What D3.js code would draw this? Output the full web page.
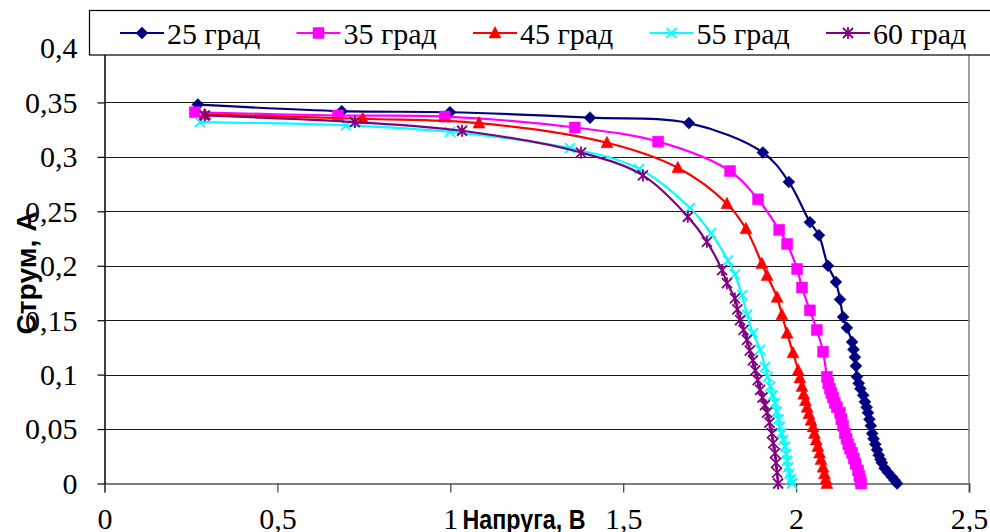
<!DOCTYPE html>
<html>
<head>
<meta charset="utf-8">
<script src="https://cdn.jsdelivr.net/npm/d3@7"></script>
<style>
  body { margin: 0; background: #fff; }
  svg { display: block; }
  text.serif, .serif text { font-family: "Liberation Serif", "Tinos", "Times New Roman", "DejaVu Serif", serif; font-size: 30px; }
  .title { font-family: "Liberation Sans Narrow", "Liberation Sans", Arial, sans-serif; font-size: 27px; font-weight: bold; }
</style>
</head>
<body>
<svg width="990" height="532"></svg>
<script>
// tick values
var xTicks = [0, 0.5, 1, 1.5, 2, 2.5];
var yTicks = [0, 0.05, 0.1, 0.15, 0.2, 0.25, 0.3, 0.35, 0.4];

var seriesNames = ["25 град", "35 град", "45 град", "55 град", "60 град"];
var seriesColors = ["#000080", "#ff00ff", "#ff0000", "#00ffff", "#800080"];
var seriesMarkers = ["diamond", "square", "triangle", "cross", "star"];

// [напруга, В ; струм, А]
var s25 = [[0.270,0.348],[0.686,0.342],[0.999,0.341],[1.404,0.336],[1.690,0.331],[1.904,0.304],[1.979,0.277],
  [2.040,0.240],[2.066,0.228],[2.092,0.200],[2.115,0.185],[2.127,0.169],[2.136,0.153],[2.147,0.143],[2.162,0.130],
  [2.166,0.123],[2.170,0.116],[2.173,0.108],[2.176,0.098],[2.181,0.092],[2.186,0.087],[2.194,0.081],[2.199,0.075],
  [2.204,0.070],[2.208,0.065],[2.212,0.059],[2.216,0.053],[2.220,0.046],[2.224,0.041],[2.229,0.036],[2.234,0.031],
  [2.239,0.026],[2.244,0.022],[2.248,0.019],[2.256,0.014],[2.266,0.010],[2.277,0.006],[2.285,0.003],[2.292,0.000]];

var s35 = [[0.261,0.341],[0.675,0.338],[0.984,0.337],[1.360,0.327],[1.601,0.314],[1.809,0.287],[1.890,0.261],
  [1.951,0.233],[1.974,0.220],[2.003,0.197],[2.017,0.180],[2.040,0.159],[2.060,0.141],[2.078,0.121],[2.089,0.098],
  [2.093,0.092],[2.098,0.087],[2.102,0.083],[2.107,0.079],[2.112,0.074],[2.118,0.070],[2.127,0.065],[2.131,0.059],
  [2.136,0.053],[2.141,0.046],[2.146,0.041],[2.151,0.036],[2.156,0.032],[2.162,0.028],[2.167,0.023],[2.172,0.018],
  [2.179,0.012],[2.183,0.007],[2.186,0.003],[2.188,0.000]];

var s45 = [[0.290,0.339],[0.747,0.335],[1.083,0.331],[1.453,0.313],[1.658,0.290],[1.800,0.257],[1.855,0.234],
  [1.901,0.202],[1.916,0.191],[1.945,0.171],[1.959,0.155],[1.974,0.138],[1.991,0.120],[2.006,0.104],[2.011,0.097],
  [2.017,0.089],[2.022,0.082],[2.027,0.076],[2.032,0.070],[2.037,0.064],[2.043,0.058],[2.049,0.052],[2.053,0.046],
  [2.058,0.040],[2.063,0.034],[2.068,0.028],[2.072,0.022],[2.078,0.015],[2.082,0.009],[2.086,0.004],[2.089,0.000]];

var s55 = [[0.276,0.332],[0.698,0.329],[0.999,0.323],[1.346,0.308],[1.546,0.289],[1.693,0.253],[1.754,0.230],
  [1.803,0.205],[1.823,0.192],[1.844,0.173],[1.858,0.155],[1.875,0.138],[1.896,0.123],[1.910,0.107],[1.918,0.098],
  [1.925,0.089],[1.932,0.081],[1.939,0.074],[1.944,0.066],[1.949,0.059],[1.953,0.052],[1.958,0.046],[1.963,0.040],
  [1.968,0.034],[1.971,0.027],[1.974,0.021],[1.977,0.015],[1.981,0.009],[1.985,0.004],[1.988,0.000]];

var s60 = [[0.290,0.338],[0.724,0.332],[1.034,0.324],[1.378,0.304],[1.557,0.283],[1.687,0.245],[1.742,0.222],
  [1.786,0.196],[1.800,0.184],[1.823,0.170],[1.830,0.160],[1.838,0.150],[1.848,0.141],[1.858,0.132],[1.866,0.122],
  [1.875,0.113],[1.882,0.104],[1.889,0.095],[1.896,0.086],[1.903,0.079],[1.910,0.072],[1.916,0.065],[1.923,0.056],
  [1.930,0.046],[1.934,0.037],[1.939,0.028],[1.942,0.019],[1.945,0.010],[1.948,0.000]];

var allSeries = [s25, s35, s45, s55, s60];

var svg = d3.select("svg");

var x = d3.scaleLinear().domain([0, 2.5]).range([104.5, 969]);
var y = d3.scaleLinear().domain([0, 0.4]).range([483.5, 48]);

function comma(d) { return String(d).replace(".", ","); }

// horizontal grid lines
svg.append("g")
  .selectAll("line")
  .data(yTicks.filter(function (d) { return d > 0; }))
  .enter().append("line")
  .attr("x1", x(0)).attr("x2", x(2.5))
  .attr("y1", function (d) { return Math.round(y(d)) + 0.5; })
  .attr("y2", function (d) { return Math.round(y(d)) + 0.5; })
  .attr("stroke", "#1a1a1a")
  .attr("stroke-width", 1);

// right border
svg.append("line")
  .attr("x1", x(2.5)).attr("x2", x(2.5))
  .attr("y1", y(0.4)).attr("y2", y(0))
  .attr("stroke", "#808080").attr("stroke-width", 1.5);

// x axis
var xAxis = svg.append("g")
  .attr("class", "serif")
  .attr("transform", "translate(0," + y(0) + ")")
  .call(d3.axisBottom(x).tickValues(xTicks).tickFormat(comma).tickSize(9).tickPadding(15));
xAxis.attr("font-family", null).attr("font-size", null);
xAxis.select(".domain").attr("stroke", "#808080").attr("stroke-width", 2);
xAxis.selectAll(".tick line").attr("stroke", "#404040").attr("stroke-width", 1.2);
xAxis.selectAll("text").attr("fill", "#000");

// y axis
var yAxis = svg.append("g")
  .attr("class", "serif")
  .attr("transform", "translate(" + x(0) + ",0)")
  .call(d3.axisLeft(y).tickValues(yTicks).tickFormat(comma).tickSize(7).tickSizeOuter(0).tickPadding(20));
yAxis.attr("font-family", null).attr("font-size", null);
yAxis.select(".domain").attr("stroke", "#000").attr("stroke-width", 1.5);
yAxis.selectAll(".tick line").attr("stroke", "#000").attr("stroke-width", 1.2);
yAxis.selectAll("text").attr("fill", "#000").attr("dy", "0.33em");

// marker shapes
function markerPath(type) {
  if (type === "diamond") return "M0,-6L6,0L0,6L-6,0Z";
  if (type === "square") return "M-5.5,-5.5H5.5V5.5H-5.5Z";
  if (type === "triangle") return "M0,-6.5L6,5L-6,5Z";
  if (type === "cross") return "M-5,-5L5,5M-5,5L5,-5";
  return "M-5,-5L5,5M-5,5L5,-5M0,-6V6";
}
function drawMarker(sel, type, color) {
  var filled = type === "diamond" || type === "square" || type === "triangle";
  sel.append("path")
    .attr("d", markerPath(type))
    .attr("fill", filled ? color : "none")
    .attr("stroke", color)
    .attr("stroke-width", filled ? 0.5 : 1.8);
}

var line = d3.line()
  .x(function (d) { return x(d[0]); })
  .y(function (d) { return y(d[1]); })
  .curve(d3.curveCatmullRom.alpha(0.5));

allSeries.forEach(function (data, k) {
  var g = svg.append("g");
  g.append("path")
    .datum(data)
    .attr("d", line)
    .attr("fill", "none")
    .attr("stroke", seriesColors[k])
    .attr("stroke-width", 2.2);
  g.selectAll("g.pt")
    .data(data)
    .enter().append("g")
    .attr("class", "pt")
    .attr("transform", function (d) { return "translate(" + x(d[0]) + "," + y(d[1]) + ")"; })
    .each(function () { drawMarker(d3.select(this), seriesMarkers[k], seriesColors[k]); });
});

// legend
var legend = svg.append("g");
legend.append("rect")
  .attr("x", 89.5).attr("y", 10.5)
  .attr("width", 920).attr("height", 44.5)
  .attr("fill", "#fff").attr("stroke", "#000").attr("stroke-width", 1.2);

var item = legend.selectAll("g.item")
  .data(seriesNames)
  .enter().append("g")
  .attr("class", "item")
  .attr("transform", function (d, i) { return "translate(" + (120 + i * 176.5) + ",33)"; });
item.append("line")
  .attr("x1", 0).attr("x2", 44)
  .attr("stroke", function (d, i) { return seriesColors[i]; })
  .attr("stroke-width", 2.2);
item.each(function (d, i) {
  var m = d3.select(this).append("g").attr("transform", "translate(22,0)");
  drawMarker(m, seriesMarkers[i], seriesColors[i]);
});
item.append("text")
  .attr("class", "serif")
  .attr("x", 47).attr("y", 11)
  .text(function (d) { return d; });

// axis titles
svg.append("text")
  .attr("class", "title")
  .attr("x", 524).attr("y", 529)
  .attr("text-anchor", "middle")
  .attr("textLength", 123).attr("lengthAdjust", "spacingAndGlyphs")
  .text("Напруга, В");

svg.append("text")
  .attr("class", "title")
  .attr("transform", "translate(36,273) rotate(-90)")
  .attr("text-anchor", "middle")
  .attr("textLength", 123).attr("lengthAdjust", "spacingAndGlyphs")
  .text("Струм, А");
</script>
</body>
</html>
